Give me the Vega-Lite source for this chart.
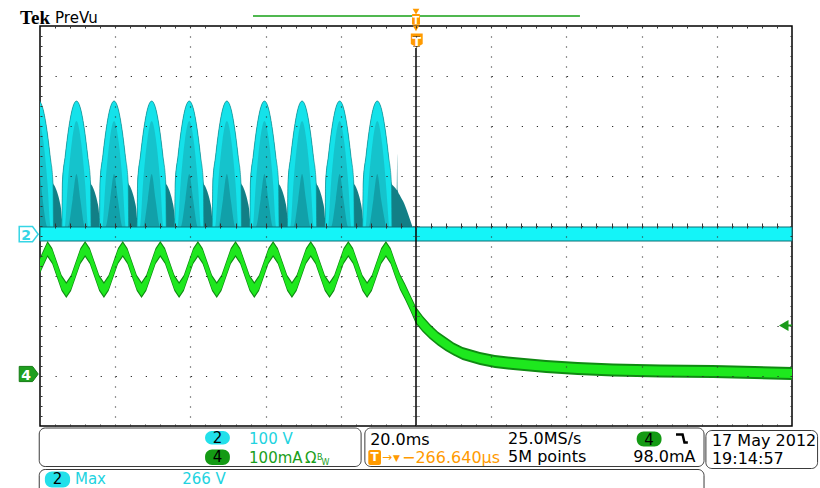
{
  "$schema": "https://vega.github.io/schema/vega-lite/v6.json",
  "width": 752,
  "height": 400,
  "autosize": {"type": "none"},
  "padding": {"left": 40, "top": 26, "right": 28, "bottom": 62},
  "background": "white",
  "config": {
    "view": {"stroke": "#000000", "strokeWidth": 1.5},
    "text": {"font": "DejaVu Sans"},
    "axis": {"title": null, "labels": false, "domain": false}
  },
  "resolve": {
    "scale": {"y": "independent"},
    "axis": {"x": "independent", "y": "independent"}
  },
  "datasets": {
    "ch2_env": [
      {"t": -100, "v": 265}, {"t": -99.3, "v": 253}, {"t": -98.3, "v": 215}, {"t": -97.3, "v": 156}, {"t": -96.55, "v": 102}, {"t": -96.1, "v": 96}, {"t": -95.45, "v": 84}, {"t": -94.8, "v": 66}, {"t": -94.4, "v": 50}, {"t": -94.15, "v": 30},
      {"t": -94.05, "v": 102}, {"t": -93.3, "v": 156}, {"t": -92.3, "v": 215}, {"t": -91.3, "v": 253}, {"t": -90.3, "v": 266}, {"t": -89.3, "v": 253}, {"t": -88.3, "v": 215}, {"t": -87.3, "v": 156}, {"t": -86.55, "v": 102}, {"t": -86.1, "v": 96}, {"t": -85.45, "v": 84}, {"t": -84.8, "v": 66}, {"t": -84.4, "v": 50}, {"t": -84.15, "v": 30},
      {"t": -84.05, "v": 102}, {"t": -83.3, "v": 156}, {"t": -82.3, "v": 215}, {"t": -81.3, "v": 253}, {"t": -80.3, "v": 266}, {"t": -79.3, "v": 253}, {"t": -78.3, "v": 215}, {"t": -77.3, "v": 156}, {"t": -76.55, "v": 102}, {"t": -76.1, "v": 96}, {"t": -75.45, "v": 84}, {"t": -74.8, "v": 66}, {"t": -74.4, "v": 50}, {"t": -74.15, "v": 30},
      {"t": -74.05, "v": 102}, {"t": -73.3, "v": 156}, {"t": -72.3, "v": 215}, {"t": -71.3, "v": 253}, {"t": -70.3, "v": 266}, {"t": -69.3, "v": 253}, {"t": -68.3, "v": 215}, {"t": -67.3, "v": 156}, {"t": -66.55, "v": 102}, {"t": -66.1, "v": 96}, {"t": -65.45, "v": 84}, {"t": -64.8, "v": 66}, {"t": -64.4, "v": 50}, {"t": -64.15, "v": 30},
      {"t": -64.05, "v": 102}, {"t": -63.3, "v": 156}, {"t": -62.3, "v": 215}, {"t": -61.3, "v": 253}, {"t": -60.3, "v": 266}, {"t": -59.3, "v": 253}, {"t": -58.3, "v": 215}, {"t": -57.3, "v": 156}, {"t": -56.55, "v": 102}, {"t": -56.1, "v": 96}, {"t": -55.45, "v": 84}, {"t": -54.8, "v": 66}, {"t": -54.4, "v": 50}, {"t": -54.15, "v": 30},
      {"t": -54.05, "v": 102}, {"t": -53.3, "v": 156}, {"t": -52.3, "v": 215}, {"t": -51.3, "v": 253}, {"t": -50.3, "v": 266}, {"t": -49.3, "v": 253}, {"t": -48.3, "v": 215}, {"t": -47.3, "v": 156}, {"t": -46.55, "v": 102}, {"t": -46.1, "v": 96}, {"t": -45.45, "v": 84}, {"t": -44.8, "v": 66}, {"t": -44.4, "v": 50}, {"t": -44.15, "v": 30},
      {"t": -44.05, "v": 102}, {"t": -43.3, "v": 156}, {"t": -42.3, "v": 215}, {"t": -41.3, "v": 253}, {"t": -40.3, "v": 266}, {"t": -39.3, "v": 253}, {"t": -38.3, "v": 215}, {"t": -37.3, "v": 156}, {"t": -36.55, "v": 102}, {"t": -36.1, "v": 96}, {"t": -35.45, "v": 84}, {"t": -34.8, "v": 66}, {"t": -34.4, "v": 50}, {"t": -34.15, "v": 30},
      {"t": -34.05, "v": 102}, {"t": -33.3, "v": 156}, {"t": -32.3, "v": 215}, {"t": -31.3, "v": 253}, {"t": -30.3, "v": 266}, {"t": -29.3, "v": 253}, {"t": -28.3, "v": 215}, {"t": -27.3, "v": 156}, {"t": -26.55, "v": 102}, {"t": -26.1, "v": 96}, {"t": -25.45, "v": 84}, {"t": -24.8, "v": 66}, {"t": -24.4, "v": 50}, {"t": -24.15, "v": 30},
      {"t": -24.05, "v": 102}, {"t": -23.3, "v": 156}, {"t": -22.3, "v": 215}, {"t": -21.3, "v": 253}, {"t": -20.3, "v": 266}, {"t": -19.3, "v": 253}, {"t": -18.3, "v": 215}, {"t": -17.3, "v": 156}, {"t": -16.55, "v": 102}, {"t": -16.1, "v": 96}, {"t": -15.45, "v": 84}, {"t": -14.8, "v": 66}, {"t": -14.4, "v": 50}, {"t": -14.15, "v": 30},
      {"t": -14.05, "v": 102}, {"t": -13.3, "v": 156}, {"t": -12.3, "v": 215}, {"t": -11.3, "v": 253}, {"t": -10.3, "v": 266}, {"t": -9.3, "v": 253}, {"t": -8.3, "v": 215}, {"t": -7.3, "v": 156}, {"t": -6.55, "v": 102}, {"t": -6.0, "v": 96}, {"t": -5.5, "v": 92}, {"t": -5.1, "v": 88}, {"t": -5.0, "v": 160}, {"t": -4.9, "v": 88}, {"t": -4.2, "v": 76}, {"t": -3.2, "v": 62}, {"t": -2.1, "v": 40}, {"t": -1.1, "v": 18}, {"t": -0.8, "v": 12}
    ],
    "ch2_arch": [
      {"t": -100, "v": 265}, {"t": -99.3, "v": 253}, {"t": -98.3, "v": 215}, {"t": -97.3, "v": 156}, {"t": -96.55, "v": 102}, {"t": -96.4, "v": 14},
      {"t": -94.2, "v": 14}, {"t": -94.05, "v": 102}, {"t": -93.3, "v": 156}, {"t": -92.3, "v": 215}, {"t": -91.3, "v": 253}, {"t": -90.3, "v": 266}, {"t": -89.3, "v": 253}, {"t": -88.3, "v": 215}, {"t": -87.3, "v": 156}, {"t": -86.55, "v": 102}, {"t": -86.4, "v": 14},
      {"t": -84.2, "v": 14}, {"t": -84.05, "v": 102}, {"t": -83.3, "v": 156}, {"t": -82.3, "v": 215}, {"t": -81.3, "v": 253}, {"t": -80.3, "v": 266}, {"t": -79.3, "v": 253}, {"t": -78.3, "v": 215}, {"t": -77.3, "v": 156}, {"t": -76.55, "v": 102}, {"t": -76.4, "v": 14},
      {"t": -74.2, "v": 14}, {"t": -74.05, "v": 102}, {"t": -73.3, "v": 156}, {"t": -72.3, "v": 215}, {"t": -71.3, "v": 253}, {"t": -70.3, "v": 266}, {"t": -69.3, "v": 253}, {"t": -68.3, "v": 215}, {"t": -67.3, "v": 156}, {"t": -66.55, "v": 102}, {"t": -66.4, "v": 14},
      {"t": -64.2, "v": 14}, {"t": -64.05, "v": 102}, {"t": -63.3, "v": 156}, {"t": -62.3, "v": 215}, {"t": -61.3, "v": 253}, {"t": -60.3, "v": 266}, {"t": -59.3, "v": 253}, {"t": -58.3, "v": 215}, {"t": -57.3, "v": 156}, {"t": -56.55, "v": 102}, {"t": -56.4, "v": 14},
      {"t": -54.2, "v": 14}, {"t": -54.05, "v": 102}, {"t": -53.3, "v": 156}, {"t": -52.3, "v": 215}, {"t": -51.3, "v": 253}, {"t": -50.3, "v": 266}, {"t": -49.3, "v": 253}, {"t": -48.3, "v": 215}, {"t": -47.3, "v": 156}, {"t": -46.55, "v": 102}, {"t": -46.4, "v": 14},
      {"t": -44.2, "v": 14}, {"t": -44.05, "v": 102}, {"t": -43.3, "v": 156}, {"t": -42.3, "v": 215}, {"t": -41.3, "v": 253}, {"t": -40.3, "v": 266}, {"t": -39.3, "v": 253}, {"t": -38.3, "v": 215}, {"t": -37.3, "v": 156}, {"t": -36.55, "v": 102}, {"t": -36.4, "v": 14},
      {"t": -34.2, "v": 14}, {"t": -34.05, "v": 102}, {"t": -33.3, "v": 156}, {"t": -32.3, "v": 215}, {"t": -31.3, "v": 253}, {"t": -30.3, "v": 266}, {"t": -29.3, "v": 253}, {"t": -28.3, "v": 215}, {"t": -27.3, "v": 156}, {"t": -26.55, "v": 102}, {"t": -26.4, "v": 14},
      {"t": -24.2, "v": 14}, {"t": -24.05, "v": 102}, {"t": -23.3, "v": 156}, {"t": -22.3, "v": 215}, {"t": -21.3, "v": 253}, {"t": -20.3, "v": 266}, {"t": -19.3, "v": 253}, {"t": -18.3, "v": 215}, {"t": -17.3, "v": 156}, {"t": -16.55, "v": 102}, {"t": -16.4, "v": 14},
      {"t": -14.2, "v": 14}, {"t": -14.05, "v": 102}, {"t": -13.3, "v": 156}, {"t": -12.3, "v": 215}, {"t": -11.3, "v": 253}, {"t": -10.3, "v": 266}, {"t": -9.3, "v": 253}, {"t": -8.3, "v": 215}, {"t": -7.3, "v": 156}, {"t": -6.55, "v": 102}, {"t": -6.4, "v": 14}
    ],
    "ch2_inner": [
      {"t": -100, "v": 224}, {"t": -99.1, "v": 185}, {"t": -98.0, "v": 100}, {"t": -97.2, "v": 14},
      {"t": -93.4, "v": 14}, {"t": -92.6, "v": 100}, {"t": -91.5, "v": 185}, {"t": -90.3, "v": 226}, {"t": -89.1, "v": 185}, {"t": -88.0, "v": 100}, {"t": -87.2, "v": 14},
      {"t": -83.4, "v": 14}, {"t": -82.6, "v": 100}, {"t": -81.5, "v": 185}, {"t": -80.3, "v": 226}, {"t": -79.1, "v": 185}, {"t": -78.0, "v": 100}, {"t": -77.2, "v": 14},
      {"t": -73.4, "v": 14}, {"t": -72.6, "v": 100}, {"t": -71.5, "v": 185}, {"t": -70.3, "v": 226}, {"t": -69.1, "v": 185}, {"t": -68.0, "v": 100}, {"t": -67.2, "v": 14},
      {"t": -63.4, "v": 14}, {"t": -62.6, "v": 100}, {"t": -61.5, "v": 185}, {"t": -60.3, "v": 226}, {"t": -59.1, "v": 185}, {"t": -58.0, "v": 100}, {"t": -57.2, "v": 14},
      {"t": -53.4, "v": 14}, {"t": -52.6, "v": 100}, {"t": -51.5, "v": 185}, {"t": -50.3, "v": 226}, {"t": -49.1, "v": 185}, {"t": -48.0, "v": 100}, {"t": -47.2, "v": 14},
      {"t": -43.4, "v": 14}, {"t": -42.6, "v": 100}, {"t": -41.5, "v": 185}, {"t": -40.3, "v": 226}, {"t": -39.1, "v": 185}, {"t": -38.0, "v": 100}, {"t": -37.2, "v": 14},
      {"t": -33.4, "v": 14}, {"t": -32.6, "v": 100}, {"t": -31.5, "v": 185}, {"t": -30.3, "v": 226}, {"t": -29.1, "v": 185}, {"t": -28.0, "v": 100}, {"t": -27.2, "v": 14},
      {"t": -23.4, "v": 14}, {"t": -22.6, "v": 100}, {"t": -21.5, "v": 185}, {"t": -20.3, "v": 226}, {"t": -19.1, "v": 185}, {"t": -18.0, "v": 100}, {"t": -17.2, "v": 14},
      {"t": -13.4, "v": 14}, {"t": -12.6, "v": 100}, {"t": -11.5, "v": 185}, {"t": -10.3, "v": 226}, {"t": -9.1, "v": 185}, {"t": -8.0, "v": 100}, {"t": -7.2, "v": 14}
    ],
    "ch2_deep": [
      {"t": -100, "v": 118}, {"t": -99.3, "v": 70}, {"t": -98.0, "v": 14},
      {"t": -92.6, "v": 14}, {"t": -91.3, "v": 70}, {"t": -90.3, "v": 120}, {"t": -89.3, "v": 70}, {"t": -88.0, "v": 14},
      {"t": -82.6, "v": 14}, {"t": -81.3, "v": 70}, {"t": -80.3, "v": 120}, {"t": -79.3, "v": 70}, {"t": -78.0, "v": 14},
      {"t": -72.6, "v": 14}, {"t": -71.3, "v": 70}, {"t": -70.3, "v": 120}, {"t": -69.3, "v": 70}, {"t": -68.0, "v": 14},
      {"t": -62.6, "v": 14}, {"t": -61.3, "v": 70}, {"t": -60.3, "v": 120}, {"t": -59.3, "v": 70}, {"t": -58.0, "v": 14},
      {"t": -52.6, "v": 14}, {"t": -51.3, "v": 70}, {"t": -50.3, "v": 120}, {"t": -49.3, "v": 70}, {"t": -48.0, "v": 14},
      {"t": -42.6, "v": 14}, {"t": -41.3, "v": 70}, {"t": -40.3, "v": 120}, {"t": -39.3, "v": 70}, {"t": -38.0, "v": 14},
      {"t": -32.6, "v": 14}, {"t": -31.3, "v": 70}, {"t": -30.3, "v": 120}, {"t": -29.3, "v": 70}, {"t": -28.0, "v": 14},
      {"t": -22.6, "v": 14}, {"t": -21.3, "v": 70}, {"t": -20.3, "v": 120}, {"t": -19.3, "v": 70}, {"t": -18.0, "v": 14},
      {"t": -12.6, "v": 14}, {"t": -11.3, "v": 70}, {"t": -10.3, "v": 120}, {"t": -9.3, "v": 70}, {"t": -8.0, "v": 14}
    ],
    "ch2_band": [{"t0": -100, "t1": 100, "lo": -14, "hi": 14}],
    "ch4": [
      {"t": -100, "lo": 201, "hi": 233, "clo": 205, "chi": 229},
      {"t": -98, "lo": 234, "hi": 266, "clo": 238, "chi": 262},
      {"t": -96.75, "lo": 220, "hi": 252, "clo": 224, "chi": 248},
      {"t": -95.5, "lo": 193, "hi": 225, "clo": 197, "chi": 221},
      {"t": -94.25, "lo": 166, "hi": 198, "clo": 170, "chi": 194},
      {"t": -93, "lo": 152, "hi": 184, "clo": 156, "chi": 180},
      {"t": -91.75, "lo": 166, "hi": 198, "clo": 170, "chi": 194},
      {"t": -90.5, "lo": 193, "hi": 225, "clo": 197, "chi": 221},
      {"t": -89.25, "lo": 220, "hi": 252, "clo": 224, "chi": 248},
      {"t": -88, "lo": 234, "hi": 266, "clo": 238, "chi": 262},
      {"t": -86.75, "lo": 220, "hi": 252, "clo": 224, "chi": 248},
      {"t": -85.5, "lo": 193, "hi": 225, "clo": 197, "chi": 221},
      {"t": -84.25, "lo": 166, "hi": 198, "clo": 170, "chi": 194},
      {"t": -83, "lo": 152, "hi": 184, "clo": 156, "chi": 180},
      {"t": -81.75, "lo": 166, "hi": 198, "clo": 170, "chi": 194},
      {"t": -80.5, "lo": 193, "hi": 225, "clo": 197, "chi": 221},
      {"t": -79.25, "lo": 220, "hi": 252, "clo": 224, "chi": 248},
      {"t": -78, "lo": 234, "hi": 266, "clo": 238, "chi": 262},
      {"t": -76.75, "lo": 220, "hi": 252, "clo": 224, "chi": 248},
      {"t": -75.5, "lo": 193, "hi": 225, "clo": 197, "chi": 221},
      {"t": -74.25, "lo": 166, "hi": 198, "clo": 170, "chi": 194},
      {"t": -73, "lo": 152, "hi": 184, "clo": 156, "chi": 180},
      {"t": -71.75, "lo": 166, "hi": 198, "clo": 170, "chi": 194},
      {"t": -70.5, "lo": 193, "hi": 225, "clo": 197, "chi": 221},
      {"t": -69.25, "lo": 220, "hi": 252, "clo": 224, "chi": 248},
      {"t": -68, "lo": 234, "hi": 266, "clo": 238, "chi": 262},
      {"t": -66.75, "lo": 220, "hi": 252, "clo": 224, "chi": 248},
      {"t": -65.5, "lo": 193, "hi": 225, "clo": 197, "chi": 221},
      {"t": -64.25, "lo": 166, "hi": 198, "clo": 170, "chi": 194},
      {"t": -63, "lo": 152, "hi": 184, "clo": 156, "chi": 180},
      {"t": -61.75, "lo": 166, "hi": 198, "clo": 170, "chi": 194},
      {"t": -60.5, "lo": 193, "hi": 225, "clo": 197, "chi": 221},
      {"t": -59.25, "lo": 220, "hi": 252, "clo": 224, "chi": 248},
      {"t": -58, "lo": 234, "hi": 266, "clo": 238, "chi": 262},
      {"t": -56.75, "lo": 220, "hi": 252, "clo": 224, "chi": 248},
      {"t": -55.5, "lo": 193, "hi": 225, "clo": 197, "chi": 221},
      {"t": -54.25, "lo": 166, "hi": 198, "clo": 170, "chi": 194},
      {"t": -53, "lo": 152, "hi": 184, "clo": 156, "chi": 180},
      {"t": -51.75, "lo": 166, "hi": 198, "clo": 170, "chi": 194},
      {"t": -50.5, "lo": 193, "hi": 225, "clo": 197, "chi": 221},
      {"t": -49.25, "lo": 220, "hi": 252, "clo": 224, "chi": 248},
      {"t": -48, "lo": 234, "hi": 266, "clo": 238, "chi": 262},
      {"t": -46.75, "lo": 220, "hi": 252, "clo": 224, "chi": 248},
      {"t": -45.5, "lo": 193, "hi": 225, "clo": 197, "chi": 221},
      {"t": -44.25, "lo": 166, "hi": 198, "clo": 170, "chi": 194},
      {"t": -43, "lo": 152, "hi": 184, "clo": 156, "chi": 180},
      {"t": -41.75, "lo": 166, "hi": 198, "clo": 170, "chi": 194},
      {"t": -40.5, "lo": 193, "hi": 225, "clo": 197, "chi": 221},
      {"t": -39.25, "lo": 220, "hi": 252, "clo": 224, "chi": 248},
      {"t": -38, "lo": 234, "hi": 266, "clo": 238, "chi": 262},
      {"t": -36.75, "lo": 220, "hi": 252, "clo": 224, "chi": 248},
      {"t": -35.5, "lo": 193, "hi": 225, "clo": 197, "chi": 221},
      {"t": -34.25, "lo": 166, "hi": 198, "clo": 170, "chi": 194},
      {"t": -33, "lo": 152, "hi": 184, "clo": 156, "chi": 180},
      {"t": -31.75, "lo": 166, "hi": 198, "clo": 170, "chi": 194},
      {"t": -30.5, "lo": 193, "hi": 225, "clo": 197, "chi": 221},
      {"t": -29.25, "lo": 220, "hi": 252, "clo": 224, "chi": 248},
      {"t": -28, "lo": 234, "hi": 266, "clo": 238, "chi": 262},
      {"t": -26.75, "lo": 220, "hi": 252, "clo": 224, "chi": 248},
      {"t": -25.5, "lo": 193, "hi": 225, "clo": 197, "chi": 221},
      {"t": -24.25, "lo": 166, "hi": 198, "clo": 170, "chi": 194},
      {"t": -23, "lo": 152, "hi": 184, "clo": 156, "chi": 180},
      {"t": -21.75, "lo": 166, "hi": 198, "clo": 170, "chi": 194},
      {"t": -20.5, "lo": 193, "hi": 225, "clo": 197, "chi": 221},
      {"t": -19.25, "lo": 220, "hi": 252, "clo": 224, "chi": 248},
      {"t": -18, "lo": 234, "hi": 266, "clo": 238, "chi": 262},
      {"t": -16.75, "lo": 220, "hi": 252, "clo": 224, "chi": 248},
      {"t": -15.5, "lo": 193, "hi": 225, "clo": 197, "chi": 221},
      {"t": -14.25, "lo": 166, "hi": 198, "clo": 170, "chi": 194},
      {"t": -13, "lo": 152, "hi": 184, "clo": 156, "chi": 180},
      {"t": -11.75, "lo": 166, "hi": 198, "clo": 170, "chi": 194},
      {"t": -10.5, "lo": 193, "hi": 225, "clo": 197, "chi": 221},
      {"t": -9.25, "lo": 220, "hi": 252, "clo": 224, "chi": 248},
      {"t": -8, "lo": 234, "hi": 266, "clo": 238, "chi": 262},
      {"t": -6.75, "lo": 220, "hi": 252, "clo": 224, "chi": 248},
      {"t": -5.5, "lo": 193, "hi": 225, "clo": 197, "chi": 221},
      {"t": -4.25, "lo": 168, "hi": 200, "clo": 172, "chi": 196},
      {"t": -3, "lo": 150, "hi": 182, "clo": 154, "chi": 178},
      {"t": -1.5, "lo": 126, "hi": 158, "clo": 130, "chi": 154},
      {"t": 0, "lo": 100, "hi": 134, "clo": 104, "chi": 130},
      {"t": 1.8, "lo": 84, "hi": 116, "clo": 88, "chi": 112},
      {"t": 3.7, "lo": 70, "hi": 100, "clo": 74, "chi": 96},
      {"t": 5.8, "lo": 57, "hi": 85, "clo": 61, "chi": 81},
      {"t": 7.9, "lo": 46, "hi": 74, "clo": 50, "chi": 70},
      {"t": 10, "lo": 37, "hi": 63, "clo": 41, "chi": 59},
      {"t": 12.4, "lo": 28, "hi": 54, "clo": 32, "chi": 50},
      {"t": 17, "lo": 18, "hi": 44, "clo": 22, "chi": 40},
      {"t": 21, "lo": 12, "hi": 38, "clo": 16, "chi": 34},
      {"t": 25.8, "lo": 8, "hi": 34, "clo": 12, "chi": 30},
      {"t": 34.6, "lo": 2, "hi": 28, "clo": 6, "chi": 24},
      {"t": 43, "lo": -2, "hi": 24, "clo": 2, "chi": 20},
      {"t": 52.4, "lo": -5, "hi": 21, "clo": -1, "chi": 17},
      {"t": 65, "lo": -7, "hi": 19, "clo": -3, "chi": 15},
      {"t": 79, "lo": -8, "hi": 18, "clo": -4, "chi": 14},
      {"t": 90, "lo": -10, "hi": 16, "clo": -6, "chi": 12},
      {"t": 100, "lo": -12, "hi": 14, "clo": -8, "chi": 10}
    ],
    "trigger_line": [{"t": 0, "d0": -4, "d1": 3.56}],
    "boxes": [
      {"t0": -100.2, "t1": -14.6, "d0": -4.81, "d1": -4.04},
      {"t0": -13.6, "t1": 76.6, "d0": -4.81, "d1": -4.04},
      {"t0": 77.1, "t1": 106.8, "d0": -4.85, "d1": -4.09},
      {"t0": -100.2, "t1": 76.6, "d0": -5.6, "d1": -4.87}
    ],
    "pills_cyan": [
      {"t0": -56.1, "t1": -49.5, "d0": -4.37, "d1": -4.1},
      {"t0": -98.7, "t1": -92.0, "d0": -5.23, "d1": -4.91}
    ],
    "pills_green": [
      {"t0": -56.1, "t1": -49.5, "d0": -4.78, "d1": -4.47},
      {"t0": 58.7, "t1": 65.3, "d0": -4.41, "d1": -4.11}
    ],
    "pill_digits": [
      {"t": -52.8, "d": -4.347, "label": "2"},
      {"t": -52.8, "d": -4.713, "label": "4"},
      {"t": -95.35, "d": -5.16, "label": "2"},
      {"t": 62.0, "d": -4.38, "label": "4"}
    ],
    "cyan_text": [
      {"t": -44.4, "d": -4.36, "label": "100 V"},
      {"t": -90.7, "d": -5.15, "label": "Max"},
      {"t": -62.2, "d": -5.15, "label": "266 V"}
    ],
    "green_text": [
      {"t": -44.4, "d": -4.73, "label": "100mA"},
      {"t": -29.5, "d": -4.73, "label": "Ω"}
    ],
    "green_small": [
      {"t": -26.3, "d": -4.68, "label": "B"},
      {"t": -25.1, "d": -4.78, "label": "W"}
    ],
    "black_text": [
      {"t": -12.2, "d": -4.38, "label": "20.0ms"},
      {"t": 24.5, "d": -4.36, "label": "25.0MS/s"},
      {"t": 24.5, "d": -4.727, "label": "5M points"},
      {"t": 57.8, "d": -4.727, "label": "98.0mA"},
      {"t": 78.7, "d": -4.4, "label": "17 May 2012"},
      {"t": 78.7, "d": -4.76, "label": "19:14:57"}
    ],
    "trig_box": [{"t0": -12.69, "t1": -9.31, "d0": -4.78, "d1": -4.48}],
    "trig_box_text": [{"t": -11.0, "d": -4.7, "label": "T"}],
    "orange_arrow": [{"t": -9.04, "d": -4.69, "label": "→"}],
    "orange_tri": [{"t": -6.12, "d": -4.69, "label": "▼"}],
    "orange_text": [{"t": -3.72, "d": -4.73, "label": "−266.640µs"}],
    "edge_glyph": [
      {"t": 69.15, "d": -4.17}, {"t": 70.9, "d": -4.17}, {"t": 71.4, "d": -4.33}, {"t": 72.3, "d": -4.33}
    ],
    "record_bar": [{"t0": -43.35, "t1": 43.6, "d": 4.2}],
    "trig_top_tri": [{"t": 0, "d": 4.286}, {"t": 0, "d": 3.954}],
    "trig_top_box": [{"t0": -1.06, "t1": 1.06, "d0": 4.026, "d1": 4.24}],
    "trig_top_box_text": [{"t": 0, "d": 4.05, "label": "T"}],
    "trig_shield": [{"t": 0.2, "d": 3.71}],
    "trig_shield_text": [{"t": 0.2, "d": 3.6, "label": "T"}],
    "ch2_marker": [{"t": -103.0, "d": -0.164}],
    "ch2_marker_text": [{"t": -103.7, "d": -0.275, "label": "2"}],
    "ch4_marker": [{"t": -103.0, "d": -2.96}],
    "ch4_marker_text": [{"t": -103.7, "d": -3.07, "label": "4"}],
    "level_arrow": [{"t": 97.8, "d": -1.99}],
    "level_stub": [{"t0": 98.4, "t1": 100, "d": -1.99}],
    "brand": [{"t": -105.3, "d": 4.04, "label": "Tek"}],
    "brand_sub": [{"t": -96.0, "d": 4.07, "label": "PreVu"}]
  },
  "layer": [
    {
      "data": {"name": "ch2_env"},
      "mark": {"type": "area", "color": "#127f86", "interpolate": "monotone"},
      "encoding": {
        "x": {"field": "t", "type": "quantitative", "scale": {"domain": [-100, 100], "nice": false, "zero": false},
          "axis": {"orient": "bottom", "values": [-80, -60, -40, -20, 0, 20, 40, 60, 80], "grid": true, "gridDash": [1, 9], "gridColor": "#2a2a2a", "gridWidth": 1.2, "ticks": false, "zindex": 1}},
        "y": {"field": "v", "type": "quantitative", "scale": {"domain": [-384, 416], "nice": false, "zero": false}, "axis": null},
        "y2": {"datum": 0}
      }
    },
    {
      "data": {"name": "ch2_arch"},
      "mark": {"type": "area", "color": "#14e2ea", "interpolate": "monotone"},
      "encoding": {
        "x": {"field": "t", "type": "quantitative", "scale": {"domain": [-100, 100], "nice": false, "zero": false},
          "axis": {"orient": "bottom", "offset": -2, "values": [-96, -92, -88, -84, -80, -76, -72, -68, -64, -60, -56, -52, -48, -44, -40, -36, -32, -28, -24, -20, -16, -12, -8, -4, 0, 4, 8, 12, 16, 20, 24, 28, 32, 36, 40, 44, 48, 52, 56, 60, 64, 68, 72, 76, 80, 84, 88, 92, 96], "grid": false, "ticks": true, "tickSize": 2, "tickColor": "#333333", "zindex": 1}},
        "y": {"field": "v", "type": "quantitative", "scale": {"domain": [-384, 416], "nice": false, "zero": false}, "axis": null},
        "y2": {"datum": 0}
      }
    },
    {
      "data": {"name": "ch2_inner"},
      "mark": {"type": "area", "color": "#16aab2", "opacity": 0.55, "interpolate": "monotone"},
      "encoding": {
        "x": {"field": "t", "type": "quantitative", "scale": {"domain": [-100, 100], "nice": false, "zero": false},
          "axis": {"orient": "top", "offset": -2, "values": [-96, -92, -88, -84, -80, -76, -72, -68, -64, -60, -56, -52, -48, -44, -40, -36, -32, -28, -24, -20, -16, -12, -8, -4, 0, 4, 8, 12, 16, 20, 24, 28, 32, 36, 40, 44, 48, 52, 56, 60, 64, 68, 72, 76, 80, 84, 88, 92, 96], "grid": false, "ticks": true, "tickSize": 2, "tickColor": "#333333", "zindex": 1}},
        "y": {"field": "v", "type": "quantitative", "scale": {"domain": [-384, 416], "nice": false, "zero": false}, "axis": null},
        "y2": {"datum": 0}
      }
    },
    {
      "data": {"name": "ch2_deep"},
      "mark": {"type": "area", "color": "#0e7e86", "opacity": 0.5, "interpolate": "monotone"},
      "encoding": {
        "x": {"field": "t", "type": "quantitative", "scale": {"domain": [-100, 100], "nice": false, "zero": false},
          "axis": {"orient": "top", "offset": -200, "values": [-96, -92, -88, -84, -80, -76, -72, -68, -64, -60, -56, -52, -48, -44, -40, -36, -32, -28, -24, -20, -16, -12, -8, -4, 0, 4, 8, 12, 16, 20, 24, 28, 32, 36, 40, 44, 48, 52, 56, 60, 64, 68, 72, 76, 80, 84, 88, 92, 96], "grid": false, "ticks": true, "tickSize": 3, "tickColor": "#333333", "zindex": 1}},
        "y": {"field": "v", "type": "quantitative", "scale": {"domain": [-384, 416], "nice": false, "zero": false}, "axis": null},
        "y2": {"datum": 0}
      }
    },
    {
      "data": {"name": "ch2_arch"},
      "mark": {"type": "line", "color": "#0f8a90", "strokeWidth": 0.8, "opacity": 0.8, "interpolate": "monotone"},
      "encoding": {
        "x": {"field": "t", "type": "quantitative", "scale": {"domain": [-100, 100], "nice": false, "zero": false}, "axis": null},
        "y": {"field": "v", "type": "quantitative", "scale": {"domain": [-384, 416], "nice": false, "zero": false}, "axis": null}
      }
    },
    {
      "data": {"name": "ch2_band"},
      "mark": {"type": "rect", "fill": "#14f4f8", "stroke": "#0d6f75", "strokeWidth": 1},
      "encoding": {
        "x": {"field": "t0", "type": "quantitative", "scale": {"domain": [-100, 100], "nice": false, "zero": false},
          "axis": {"orient": "bottom", "offset": -200, "values": [-96, -92, -88, -84, -80, -76, -72, -68, -64, -60, -56, -52, -48, -44, -40, -36, -32, -28, -24, -20, -16, -12, -8, -4, 0, 4, 8, 12, 16, 20, 24, 28, 32, 36, 40, 44, 48, 52, 56, 60, 64, 68, 72, 76, 80, 84, 88, 92, 96], "grid": false, "ticks": true, "tickSize": 2, "tickColor": "#333333", "zindex": 1}},
        "x2": {"field": "t1"},
        "y": {"field": "hi", "type": "quantitative", "scale": {"domain": [-384, 416], "nice": false, "zero": false}, "axis": null},
        "y2": {"field": "lo"}
      }
    },
    {
      "data": {"name": "ch4"},
      "mark": {"type": "area", "color": "#0f8a12"},
      "encoding": {
        "x": {"field": "t", "type": "quantitative", "scale": {"domain": [-100, 100], "nice": false, "zero": false}, "axis": null},
        "y": {"field": "hi", "type": "quantitative", "scale": {"domain": [-104, 696], "nice": false, "zero": false}, "axis": null},
        "y2": {"field": "lo"}
      }
    },
    {
      "data": {"name": "ch4"},
      "mark": {"type": "area", "color": "#1ee81e"},
      "encoding": {
        "x": {"field": "t", "type": "quantitative", "scale": {"domain": [-100, 100], "nice": false, "zero": false}, "axis": null},
        "y": {"field": "chi", "type": "quantitative", "scale": {"domain": [-104, 696], "nice": false, "zero": false}, "axis": null},
        "y2": {"field": "clo"}
      }
    },
    {
      "data": {"name": "trigger_line"},
      "mark": {"type": "rule", "color": "#000000", "strokeWidth": 1.5},
      "encoding": {
        "x": {"field": "t", "type": "quantitative", "scale": {"domain": [-100, 100], "nice": false, "zero": false}, "axis": null},
        "y": {"field": "d0", "type": "quantitative", "scale": {"domain": [-4, 4], "nice": false, "zero": false},
          "axis": {"orient": "left", "values": [-3, -2, -1, 0, 1, 2, 3], "grid": true, "gridDash": [1.2, 13.84], "gridColor": "#2a2a2a", "gridWidth": 1.2, "ticks": false, "zindex": 1}},
        "y2": {"field": "d1"}
      }
    },
    {
      "data": {"name": "boxes"},
      "mark": {"type": "rect", "fill": "white", "stroke": "#3a3a3a", "strokeWidth": 1, "cornerRadius": 6},
      "encoding": {
        "x": {"field": "t0", "type": "quantitative", "scale": {"domain": [-100, 100], "nice": false, "zero": false}, "axis": null},
        "x2": {"field": "t1"},
        "y": {"field": "d0", "type": "quantitative", "scale": {"domain": [-4, 4], "nice": false, "zero": false},
          "axis": {"orient": "left", "offset": -2, "values": [-3.8, -3.6, -3.4, -3.2, -3, -2.8, -2.6, -2.4, -2.2, -2, -1.8, -1.6, -1.4, -1.2, -1, -0.8, -0.6, -0.4, -0.2, 0, 0.2, 0.4, 0.6, 0.8, 1, 1.2, 1.4, 1.6, 1.8, 2, 2.2, 2.4, 2.6, 2.8, 3, 3.2, 3.4, 3.6, 3.8], "grid": false, "ticks": true, "tickSize": 2, "tickColor": "#333333", "zindex": 1}},
        "y2": {"field": "d1"}
      }
    },
    {
      "data": {"name": "pills_cyan"},
      "mark": {"type": "rect", "fill": "#22e0ea", "cornerRadius": 7},
      "encoding": {
        "x": {"field": "t0", "type": "quantitative", "scale": {"domain": [-100, 100], "nice": false, "zero": false}, "axis": null},
        "x2": {"field": "t1"},
        "y": {"field": "d0", "type": "quantitative", "scale": {"domain": [-4, 4], "nice": false, "zero": false},
          "axis": {"orient": "right", "offset": -2, "values": [-3.8, -3.6, -3.4, -3.2, -3, -2.8, -2.6, -2.4, -2.2, -2, -1.8, -1.6, -1.4, -1.2, -1, -0.8, -0.6, -0.4, -0.2, 0, 0.2, 0.4, 0.6, 0.8, 1, 1.2, 1.4, 1.6, 1.8, 2, 2.2, 2.4, 2.6, 2.8, 3, 3.2, 3.4, 3.6, 3.8], "grid": false, "ticks": true, "tickSize": 2, "tickColor": "#333333", "zindex": 1}},
        "y2": {"field": "d1"}
      }
    },
    {
      "data": {"name": "pills_green"},
      "mark": {"type": "rect", "fill": "#149a14", "cornerRadius": 7},
      "encoding": {
        "x": {"field": "t0", "type": "quantitative", "scale": {"domain": [-100, 100], "nice": false, "zero": false}, "axis": null},
        "x2": {"field": "t1"},
        "y": {"field": "d0", "type": "quantitative", "scale": {"domain": [-4, 4], "nice": false, "zero": false},
          "axis": {"orient": "left", "offset": -376, "values": [-3.8, -3.6, -3.4, -3.2, -3, -2.8, -2.6, -2.4, -2.2, -2, -1.8, -1.6, -1.4, -1.2, -1, -0.8, -0.6, -0.4, -0.2, 0, 0.2, 0.4, 0.6, 0.8, 1, 1.2, 1.4, 1.6, 1.8, 2, 2.2, 2.4, 2.6, 2.8, 3, 3.2, 3.4, 3.6, 3.8], "grid": false, "ticks": true, "tickSize": 3, "tickColor": "#333333", "tickDash": [1, 1], "zindex": 1}},
        "y2": {"field": "d1"}
      }
    },
    {
      "data": {"name": "pill_digits"},
      "mark": {"type": "text", "color": "#000000", "fontSize": 15, "align": "center", "baseline": "alphabetic"},
      "encoding": {
        "x": {"field": "t", "type": "quantitative", "scale": {"domain": [-100, 100], "nice": false, "zero": false}, "axis": null},
        "y": {"field": "d", "type": "quantitative", "scale": {"domain": [-4, 4], "nice": false, "zero": false},
          "axis": {"orient": "right", "offset": -376, "values": [-3.8, -3.6, -3.4, -3.2, -3, -2.8, -2.6, -2.4, -2.2, -2, -1.8, -1.6, -1.4, -1.2, -1, -0.8, -0.6, -0.4, -0.2, 0, 0.2, 0.4, 0.6, 0.8, 1, 1.2, 1.4, 1.6, 1.8, 2, 2.2, 2.4, 2.6, 2.8, 3, 3.2, 3.4, 3.6, 3.8], "grid": false, "ticks": true, "tickSize": 3, "tickColor": "#333333", "tickDash": [1, 1], "zindex": 1}},
        "text": {"field": "label"}
      }
    },
    {
      "data": {"name": "cyan_text"},
      "mark": {"type": "text", "color": "#22d3e0", "fontSize": 15, "align": "left", "baseline": "alphabetic"},
      "encoding": {
        "x": {"field": "t", "type": "quantitative", "scale": {"domain": [-100, 100], "nice": false, "zero": false}, "axis": null},
        "y": {"field": "d", "type": "quantitative", "scale": {"domain": [-4, 4], "nice": false, "zero": false}, "axis": null},
        "text": {"field": "label"}
      }
    },
    {
      "data": {"name": "green_text"},
      "mark": {"type": "text", "color": "#1a9e1a", "fontSize": 15, "align": "left", "baseline": "alphabetic"},
      "encoding": {
        "x": {"field": "t", "type": "quantitative", "scale": {"domain": [-100, 100], "nice": false, "zero": false}, "axis": null},
        "y": {"field": "d", "type": "quantitative", "scale": {"domain": [-4, 4], "nice": false, "zero": false}, "axis": null},
        "text": {"field": "label"}
      }
    },
    {
      "data": {"name": "green_small"},
      "mark": {"type": "text", "color": "#1a9e1a", "fontSize": 8, "align": "left", "baseline": "alphabetic"},
      "encoding": {
        "x": {"field": "t", "type": "quantitative", "scale": {"domain": [-100, 100], "nice": false, "zero": false}, "axis": null},
        "y": {"field": "d", "type": "quantitative", "scale": {"domain": [-4, 4], "nice": false, "zero": false}, "axis": null},
        "text": {"field": "label"}
      }
    },
    {
      "data": {"name": "black_text"},
      "mark": {"type": "text", "color": "#000000", "fontSize": 16, "align": "left", "baseline": "alphabetic"},
      "encoding": {
        "x": {"field": "t", "type": "quantitative", "scale": {"domain": [-100, 100], "nice": false, "zero": false}, "axis": null},
        "y": {"field": "d", "type": "quantitative", "scale": {"domain": [-4, 4], "nice": false, "zero": false}, "axis": null},
        "text": {"field": "label"}
      }
    },
    {
      "data": {"name": "trig_box"},
      "mark": {"type": "rect", "fill": "#ff9a00", "cornerRadius": 2},
      "encoding": {
        "x": {"field": "t0", "type": "quantitative", "scale": {"domain": [-100, 100], "nice": false, "zero": false}, "axis": null},
        "x2": {"field": "t1"},
        "y": {"field": "d0", "type": "quantitative", "scale": {"domain": [-4, 4], "nice": false, "zero": false}, "axis": null},
        "y2": {"field": "d1"}
      }
    },
    {
      "data": {"name": "trig_box_text"},
      "mark": {"type": "text", "color": "white", "fontSize": 12, "fontWeight": "bold", "align": "center", "baseline": "alphabetic"},
      "encoding": {
        "x": {"field": "t", "type": "quantitative", "scale": {"domain": [-100, 100], "nice": false, "zero": false}, "axis": null},
        "y": {"field": "d", "type": "quantitative", "scale": {"domain": [-4, 4], "nice": false, "zero": false}, "axis": null},
        "text": {"field": "label"}
      }
    },
    {
      "data": {"name": "orange_arrow"},
      "mark": {"type": "text", "color": "#ff9a00", "fontSize": 12, "align": "left", "baseline": "alphabetic"},
      "encoding": {
        "x": {"field": "t", "type": "quantitative", "scale": {"domain": [-100, 100], "nice": false, "zero": false}, "axis": null},
        "y": {"field": "d", "type": "quantitative", "scale": {"domain": [-4, 4], "nice": false, "zero": false}, "axis": null},
        "text": {"field": "label"}
      }
    },
    {
      "data": {"name": "orange_tri"},
      "mark": {"type": "text", "color": "#ff9a00", "fontSize": 9, "align": "left", "baseline": "alphabetic"},
      "encoding": {
        "x": {"field": "t", "type": "quantitative", "scale": {"domain": [-100, 100], "nice": false, "zero": false}, "axis": null},
        "y": {"field": "d", "type": "quantitative", "scale": {"domain": [-4, 4], "nice": false, "zero": false}, "axis": null},
        "text": {"field": "label"}
      }
    },
    {
      "data": {"name": "orange_text"},
      "mark": {"type": "text", "color": "#ff9a00", "fontSize": 16, "align": "left", "baseline": "alphabetic"},
      "encoding": {
        "x": {"field": "t", "type": "quantitative", "scale": {"domain": [-100, 100], "nice": false, "zero": false}, "axis": null},
        "y": {"field": "d", "type": "quantitative", "scale": {"domain": [-4, 4], "nice": false, "zero": false}, "axis": null},
        "text": {"field": "label"}
      }
    },
    {
      "data": {"name": "edge_glyph"},
      "mark": {"type": "line", "color": "#000000", "strokeWidth": 2.5},
      "encoding": {
        "x": {"field": "t", "type": "quantitative", "scale": {"domain": [-100, 100], "nice": false, "zero": false}, "axis": null},
        "y": {"field": "d", "type": "quantitative", "scale": {"domain": [-4, 4], "nice": false, "zero": false}, "axis": null}
      }
    },
    {
      "data": {"name": "record_bar"},
      "mark": {"type": "rule", "color": "#16a016", "strokeWidth": 1.5},
      "encoding": {
        "x": {"field": "t0", "type": "quantitative", "scale": {"domain": [-100, 100], "nice": false, "zero": false}, "axis": null},
        "x2": {"field": "t1"},
        "y": {"field": "d", "type": "quantitative", "scale": {"domain": [-4, 4], "nice": false, "zero": false}, "axis": null}
      }
    },
    {
      "data": {"name": "trig_top_tri"},
      "mark": {"type": "point", "shape": "triangle-down", "filled": true, "color": "#ff9a00", "size": 45, "opacity": 1},
      "encoding": {
        "x": {"field": "t", "type": "quantitative", "scale": {"domain": [-100, 100], "nice": false, "zero": false}, "axis": null},
        "y": {"field": "d", "type": "quantitative", "scale": {"domain": [-4, 4], "nice": false, "zero": false}, "axis": null}
      }
    },
    {
      "data": {"name": "trig_top_box"},
      "mark": {"type": "rect", "fill": "#ff9a00", "cornerRadius": 1},
      "encoding": {
        "x": {"field": "t0", "type": "quantitative", "scale": {"domain": [-100, 100], "nice": false, "zero": false}, "axis": null},
        "x2": {"field": "t1"},
        "y": {"field": "d0", "type": "quantitative", "scale": {"domain": [-4, 4], "nice": false, "zero": false}, "axis": null},
        "y2": {"field": "d1"}
      }
    },
    {
      "data": {"name": "trig_top_box_text"},
      "mark": {"type": "text", "color": "white", "fontSize": 10, "fontWeight": "bold", "align": "center", "baseline": "alphabetic"},
      "encoding": {
        "x": {"field": "t", "type": "quantitative", "scale": {"domain": [-100, 100], "nice": false, "zero": false}, "axis": null},
        "y": {"field": "d", "type": "quantitative", "scale": {"domain": [-4, 4], "nice": false, "zero": false}, "axis": null},
        "text": {"field": "label"}
      }
    },
    {
      "data": {"name": "trig_shield"},
      "mark": {"type": "point", "shape": "M-0.85,-1H0.85V0.5L0,1L-0.85,0.5Z", "filled": true, "color": "#ff9a00", "size": 196, "opacity": 1},
      "encoding": {
        "x": {"field": "t", "type": "quantitative", "scale": {"domain": [-100, 100], "nice": false, "zero": false}, "axis": null},
        "y": {"field": "d", "type": "quantitative", "scale": {"domain": [-4, 4], "nice": false, "zero": false}, "axis": null}
      }
    },
    {
      "data": {"name": "trig_shield_text"},
      "mark": {"type": "text", "color": "white", "fontSize": 13, "fontWeight": "bold", "align": "center", "baseline": "alphabetic"},
      "encoding": {
        "x": {"field": "t", "type": "quantitative", "scale": {"domain": [-100, 100], "nice": false, "zero": false}, "axis": null},
        "y": {"field": "d", "type": "quantitative", "scale": {"domain": [-4, 4], "nice": false, "zero": false}, "axis": null},
        "text": {"field": "label"}
      }
    },
    {
      "data": {"name": "ch2_marker"},
      "mark": {"type": "point", "shape": "M-1,-0.8H0.4L1,0L0.4,0.8H-1Z", "filled": true, "fill": "white", "stroke": "#35d5e5", "strokeWidth": 1.5, "size": 361, "opacity": 1},
      "encoding": {
        "x": {"field": "t", "type": "quantitative", "scale": {"domain": [-100, 100], "nice": false, "zero": false}, "axis": null},
        "y": {"field": "d", "type": "quantitative", "scale": {"domain": [-4, 4], "nice": false, "zero": false}, "axis": null}
      }
    },
    {
      "data": {"name": "ch2_marker_text"},
      "mark": {"type": "text", "color": "#35d5e5", "fontSize": 14, "fontWeight": "bold", "align": "center", "baseline": "alphabetic"},
      "encoding": {
        "x": {"field": "t", "type": "quantitative", "scale": {"domain": [-100, 100], "nice": false, "zero": false}, "axis": null},
        "y": {"field": "d", "type": "quantitative", "scale": {"domain": [-4, 4], "nice": false, "zero": false}, "axis": null},
        "text": {"field": "label"}
      }
    },
    {
      "data": {"name": "ch4_marker"},
      "mark": {"type": "point", "shape": "M-1,-0.8H0.4L1,0L0.4,0.8H-1Z", "filled": true, "fill": "#1f9f1f", "stroke": "#137a13", "strokeWidth": 1, "size": 361, "opacity": 1},
      "encoding": {
        "x": {"field": "t", "type": "quantitative", "scale": {"domain": [-100, 100], "nice": false, "zero": false}, "axis": null},
        "y": {"field": "d", "type": "quantitative", "scale": {"domain": [-4, 4], "nice": false, "zero": false}, "axis": null}
      }
    },
    {
      "data": {"name": "ch4_marker_text"},
      "mark": {"type": "text", "color": "white", "fontSize": 14, "fontWeight": "bold", "align": "center", "baseline": "alphabetic"},
      "encoding": {
        "x": {"field": "t", "type": "quantitative", "scale": {"domain": [-100, 100], "nice": false, "zero": false}, "axis": null},
        "y": {"field": "d", "type": "quantitative", "scale": {"domain": [-4, 4], "nice": false, "zero": false}, "axis": null},
        "text": {"field": "label"}
      }
    },
    {
      "data": {"name": "level_arrow"},
      "mark": {"type": "point", "shape": "triangle-left", "filled": true, "color": "#1a9a1a", "size": 120, "opacity": 1},
      "encoding": {
        "x": {"field": "t", "type": "quantitative", "scale": {"domain": [-100, 100], "nice": false, "zero": false}, "axis": null},
        "y": {"field": "d", "type": "quantitative", "scale": {"domain": [-4, 4], "nice": false, "zero": false}, "axis": null}
      }
    },
    {
      "data": {"name": "level_stub"},
      "mark": {"type": "rule", "color": "#1a9a1a", "strokeWidth": 2},
      "encoding": {
        "x": {"field": "t0", "type": "quantitative", "scale": {"domain": [-100, 100], "nice": false, "zero": false}, "axis": null},
        "x2": {"field": "t1"},
        "y": {"field": "d", "type": "quantitative", "scale": {"domain": [-4, 4], "nice": false, "zero": false}, "axis": null}
      }
    },
    {
      "data": {"name": "brand"},
      "mark": {"type": "text", "color": "#000000", "font": "Liberation Serif", "fontSize": 19, "fontWeight": "bold", "align": "left", "baseline": "alphabetic"},
      "encoding": {
        "x": {"field": "t", "type": "quantitative", "scale": {"domain": [-100, 100], "nice": false, "zero": false}, "axis": null},
        "y": {"field": "d", "type": "quantitative", "scale": {"domain": [-4, 4], "nice": false, "zero": false}, "axis": null},
        "text": {"field": "label"}
      }
    },
    {
      "data": {"name": "brand_sub"},
      "mark": {"type": "text", "color": "#000000", "fontSize": 15, "align": "left", "baseline": "alphabetic"},
      "encoding": {
        "x": {"field": "t", "type": "quantitative", "scale": {"domain": [-100, 100], "nice": false, "zero": false}, "axis": null},
        "y": {"field": "d", "type": "quantitative", "scale": {"domain": [-4, 4], "nice": false, "zero": false}, "axis": null},
        "text": {"field": "label"}
      }
    }
  ]
}
